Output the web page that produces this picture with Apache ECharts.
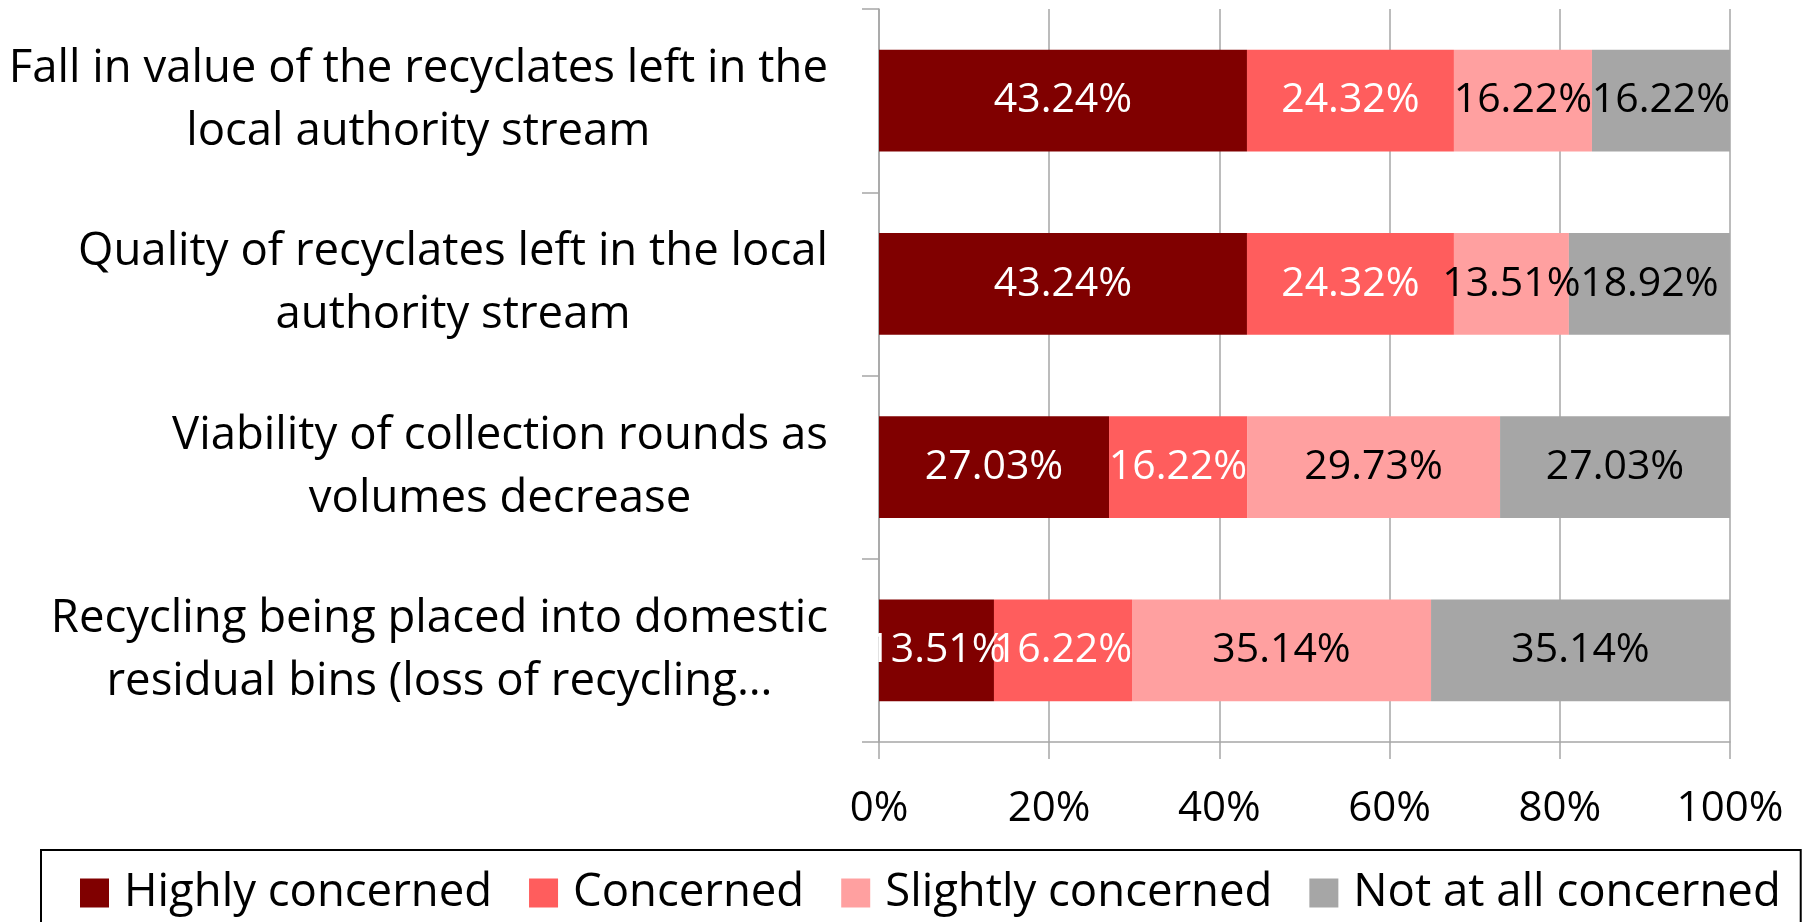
<!DOCTYPE html>
<html>
<head>
<meta charset="utf-8">
<script src="https://cdn.jsdelivr.net/npm/echarts@6/dist/echarts.min.js"></script>
<style>
  html, body { margin: 0; padding: 0; background: #fff; }
  #chart { width: 1808px; height: 922px; }
</style>
</head>
<body>
<div id="chart"></div>
<script>
const categories = [
  'Fall in value of the recyclates left in the\nlocal authority stream',
  'Quality of recyclates left in the local\nauthority stream',
  'Viability of collection rounds as\nvolumes decrease',
  'Recycling being placed into domestic\nresidual bins (loss of recycling…',
]
const seriesNames = ['Highly concerned', 'Concerned', 'Slightly concerned', 'Not at all concerned']
const highlyConcerned = [43.24, 43.24, 27.03, 13.51]
const concerned = [24.32, 24.32, 16.22, 16.22]
const slightlyConcerned = [16.22, 13.51, 29.73, 35.14]
const notAtAllConcerned = [16.22, 18.92, 27.03, 35.14]
const xTicks = [0, 20, 40, 60, 80, 100]

const colors = ['#800000', '#ff5d5d', '#ffa0a0', '#a6a6a6']
const labelColors = ['#ffffff', '#ffffff', '#000000', '#000000']
const FONT = '"Open Sans", "Noto Sans", sans-serif'
// numbers and words get different sizes so widths match the original font
const FS_NUM = 41
const FS_TEXT = 45.5
const gridColor = '#a6a6a6'

const chart = echarts.init(document.getElementById('chart'))

const seriesValues = [highlyConcerned, concerned, slightlyConcerned, notAtAllConcerned]

chart.setOption({
  animation: false,
  textStyle: { fontFamily: FONT },
  grid: {
    left: 879,
    right: 78,
    top: 9,
    bottom: 180,
    containLabel: false,
  },
  legend: {
    left: 41,
    top: 850,
    width: 1740,
    padding: [20, 20, 24, 39],
    borderColor: '#000',
    borderWidth: 2,
    itemGap: 37,
    itemWidth: 29,
    itemHeight: 29,
    icon: 'rect',
    data: seriesNames,
    textStyle: {
      fontSize: FS_TEXT,
      fontFamily: FONT,
      color: '#000',
      padding: [0, 0, 0, 10],
    },
  },
  xAxis: {
    type: 'value',
    min: xTicks[0],
    max: xTicks[xTicks.length - 1],
    interval: xTicks[1] - xTicks[0],
    axisLine: { show: true, lineStyle: { color: gridColor, width: 1.5 } },
    axisTick: { show: true, length: 17, lineStyle: { color: gridColor, width: 1.5 } },
    splitLine: { show: true, lineStyle: { color: gridColor, width: 1.5 } },
    axisLabel: {
      color: '#000',
      fontSize: FS_NUM + 1,
      fontFamily: FONT,
      margin: 46,
      lineHeight: 42,
      formatter: '{value}%',
    },
  },
  yAxis: {
    type: 'category',
    inverse: true,
    data: categories,
    axisLine: { show: true, lineStyle: { color: gridColor, width: 1.5 } },
    axisTick: { show: true, length: 17, lineStyle: { color: gridColor, width: 1.5 } },
    axisLabel: {
      color: '#000',
      fontSize: FS_TEXT,
      fontFamily: FONT,
      lineHeight: 63,
      margin: 51,
      formatter: (value) => value.split('\n').map((line) => `{c|${line}}`).join('\n'),
      rich: {
        c: {
          align: 'center',
          fontSize: FS_TEXT,
          fontFamily: FONT,
          lineHeight: 63,
          color: '#000',
        },
      },
    },
  },
  series: seriesNames.map((name, i) => ({
    name,
    type: 'bar',
    stack: 'total',
    barCategoryGap: '44.5%',
    itemStyle: { color: colors[i] },
    label: {
      show: true,
      position: 'inside',
      color: labelColors[i],
      fontSize: FS_NUM,
      fontFamily: FONT,
      formatter: (p) => p.value.toFixed(2) + '%',
    },
    data: seriesValues[i],
  })),
})
</script>
</body>
</html>
